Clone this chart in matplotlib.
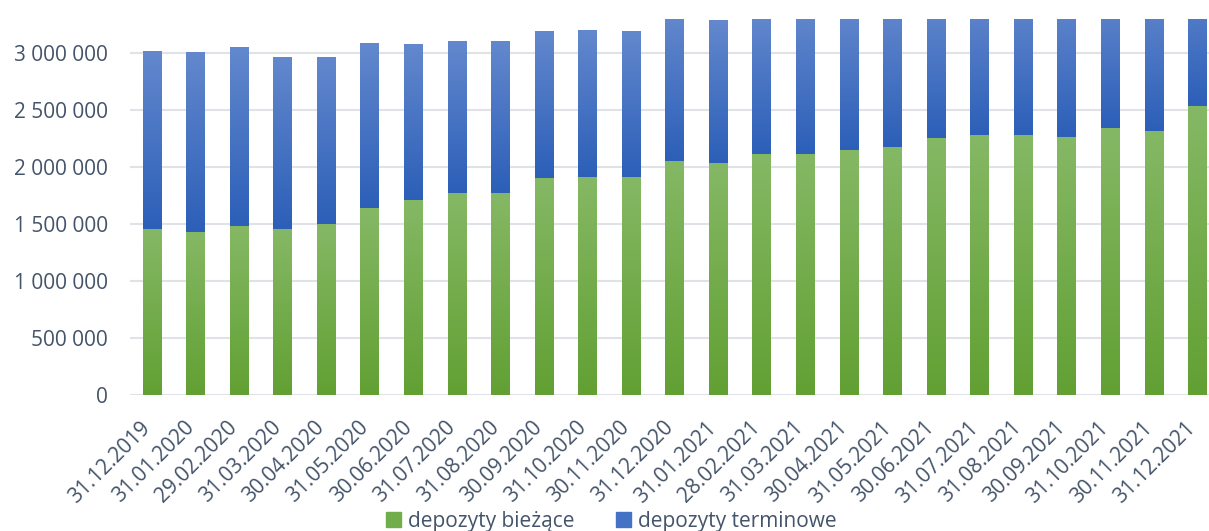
import numpy as np
import matplotlib
matplotlib.use('Agg')
import matplotlib.pyplot as plt
from matplotlib.colors import LinearSegmentedColormap
from matplotlib.patches import Patch
from matplotlib.ticker import FuncFormatter
import matplotlib.transforms as mtransforms

# data
dates = ['31.12.2019', '31.01.2020', '29.02.2020', '31.03.2020', '30.04.2020', '31.05.2020',
         '30.06.2020', '31.07.2020', '31.08.2020', '30.09.2020', '31.10.2020', '30.11.2020',
         '31.12.2020', '31.01.2021', '28.02.2021', '31.03.2021', '30.04.2021', '31.05.2021',
         '30.06.2021', '31.07.2021', '31.08.2021', '30.09.2021', '31.10.2021', '30.11.2021',
         '31.12.2021']
biezace = [1455000, 1428000, 1481000, 1455000, 1499000, 1639000, 1709000, 1770000, 1770000,
           1902000, 1911000, 1911000, 2051000, 2033000, 2112000, 2112000, 2147000, 2173000,
           2252000, 2279000, 2279000, 2261000, 2340000, 2314000, 2533000]
terminowe = [1560000, 1578000, 1569000, 1507000, 1463000, 1446000, 1367000, 1332000, 1332000,
             1288000, 1288000, 1279000, 1279000, 1253000, 1228000, 1268000, 1243000, 1247000,
             1198000, 1201000, 1221000, 1219000, 1190000, 1226000, 1167000]
series_names = ['depozyty bieżące', 'depozyty terminowe']
y_ticks = [0, 500000, 1000000, 1500000, 2000000, 2500000, 3000000]

plt.rcParams['font.family'] = ['Open Sans', 'DejaVu Sans']
text_color = '#44546a'
fs = 15

green_cmap = LinearSegmentedColormap.from_list('g', ['#62a033', '#85b865'])
blue_cmap = LinearSegmentedColormap.from_list('b', ['#2c5fb8', '#6388cd'])

W, H = 1209, 531
fig = plt.figure(figsize=(W / 100, H / 100), dpi=100)
# axes runs a bit past the right edge, like the cropped original
ax = fig.add_axes([130 / W, 136 / H, (1219 - 130) / W, (512 - 136) / H])

x = np.arange(len(dates))
bars_g = ax.bar(x, biezace, width=0.42, color='#72ad4c', zorder=2)
bars_b = ax.bar(x, terminowe, bottom=biezace, width=0.42, color='#4472c4', zorder=2)

# vertical gradient on every segment
grad = np.linspace(0, 1, 256).reshape(-1, 1)
for bars, cmap in [(bars_g, green_cmap), (bars_b, blue_cmap)]:
    for b in bars:
        x0, y0 = b.get_x(), b.get_y()
        ax.imshow(grad, extent=[x0, x0 + b.get_width(), y0, y0 + b.get_height()],
                  origin='lower', cmap=cmap, aspect='auto', zorder=3, interpolation='bilinear')

ax.set_xlim(-0.5, len(dates) - 0.5)
ax.set_ylim(0, 3300000)

ax.set_yticks(y_ticks)
ax.yaxis.set_major_formatter(FuncFormatter(lambda v, p: f'{int(v):,}'.replace(',', ' ')))
ax.grid(axis='y', color='#dfe3e8', linewidth=1.5, zorder=0)
ax.set_axisbelow(True)
for s in ax.spines.values():
    s.set_visible(False)

ax.tick_params(axis='y', length=0, pad=16, labelsize=fs, labelcolor=text_color)
ax.tick_params(axis='x', length=0, pad=16, labelsize=fs, labelcolor=text_color)
ax.set_xticks(x)
ax.set_xticklabels(dates, rotation=45, ha='right', va='top', rotation_mode='anchor')
offset = mtransforms.ScaledTranslation(-12 / 100, 0, fig.dpi_scale_trans)
for lbl in ax.get_xticklabels():
    lbl.set_transform(lbl.get_transform() + offset)

handles = [Patch(color='#72ad4c'), Patch(color='#4472c4')]
leg = fig.legend(handles, series_names, loc='center', bbox_to_anchor=(611 / W, 1 - 521 / H),
                 ncol=2, frameon=False, fontsize=fs, handlelength=0.75, handleheight=0.75,
                 handletextpad=0.3, columnspacing=2.0, labelcolor=text_color)

fig.savefig('out.png', dpi=100)
